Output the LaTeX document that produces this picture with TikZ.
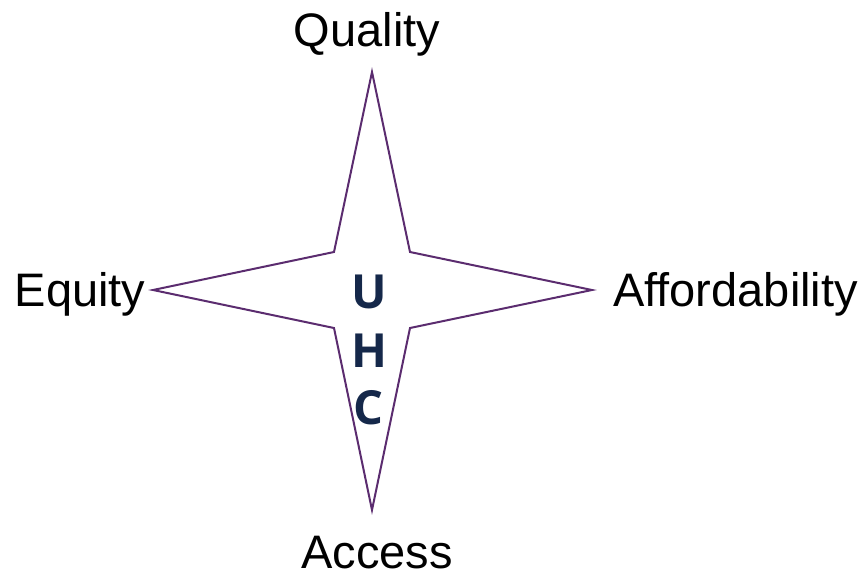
\documentclass[tikz,border=0pt]{standalone}
\usepackage{fontspec}
\setmainfont{Liberation Sans}
\newfontfamily\uhcfont{Open Sans}
\definecolor{starline}{HTML}{5B2C6F}
\definecolor{uhcnavy}{HTML}{15284A}
\begin{document}
\begin{tikzpicture}[x=1pt,y=-1pt,
  lbl/.style={inner sep=0pt,anchor=base,font=\fontsize{47}{50}\selectfont},
  uhc/.style={inner sep=0pt,anchor=base,text=uhcnavy,font=\uhcfont\bfseries\fontsize{47}{50}\selectfont}]
\useasboundingbox (0,0) rectangle (868,576);
\coordinate (top) at (372,72);
\coordinate (bot) at (372,510);
\coordinate (lft) at (153,290);
\coordinate (rgt) at (592,290);
\draw[starline,line width=2pt,line join=miter]
  (top) -- (410,252) -- (rgt) -- (410,328) -- (bot) -- (334,328) -- (lft) -- (334,252) -- cycle;
\node[uhc] (u) at (369,308) {U};
\node[uhc] (h) at (369,367) {H};
\node[uhc] (c) at (368,424) {C};
\node[lbl] (q) at (367,46) {Quality};
\node[lbl] (eq) at (80,306) {Equity};
\node[lbl,anchor=base west] (af) at (613,306) {Affordability};
\node[lbl] (ac) at (377,568) {Access};
\end{tikzpicture}
\end{document}
